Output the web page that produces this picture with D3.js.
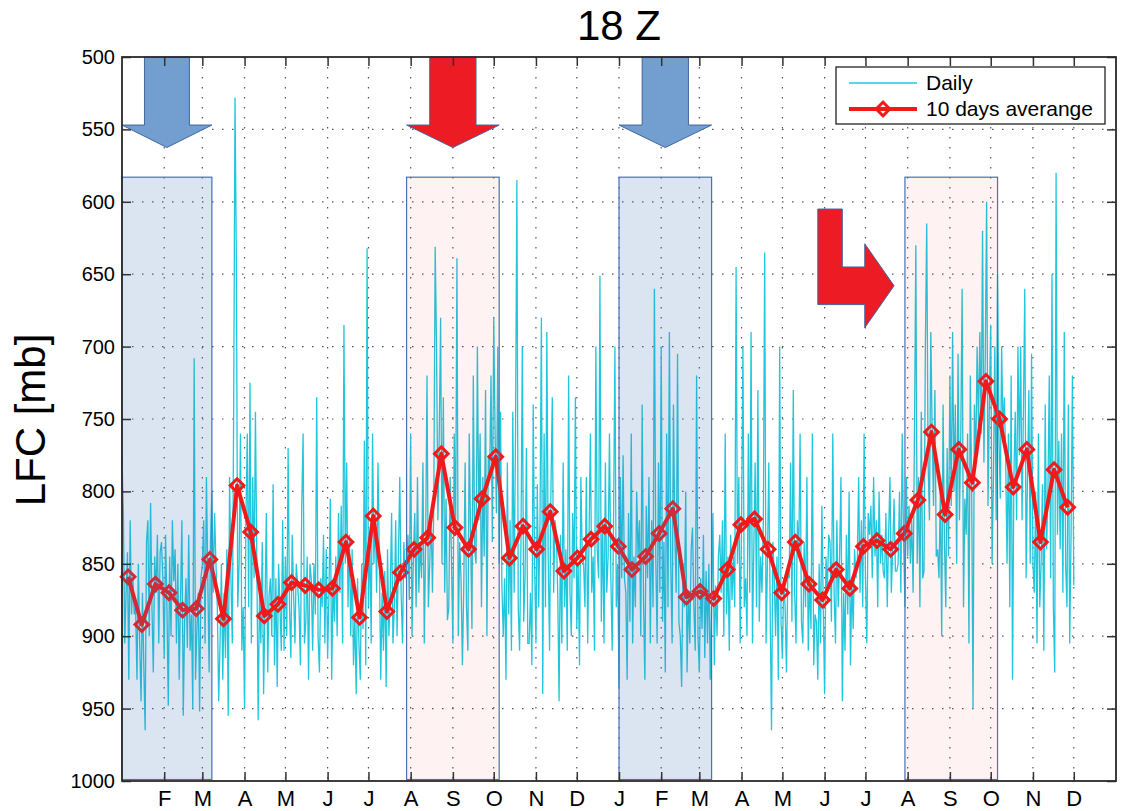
<!DOCTYPE html>
<html>
<head>
<meta charset="utf-8">
<script src="https://cdn.jsdelivr.net/npm/d3@7"></script>
<style>
  body { margin: 0; background: #fff; }
  svg text { font-family: "Liberation Sans", Arial, sans-serif; fill: #000; }
  .grid line { stroke: #555; stroke-width: 1.2; stroke-dasharray: 1.5 8.5; }
  .axis text { font-size: 20px; }
  .axis.x text { font-size: 22px; }
  .axis line { stroke: #333; stroke-width: 1.5; }
  .axis path { display: none; }
</style>
</head>
<body>
<svg id="chart"></svg>
<script>
// daily LFC [mb] at 18 Z, one value per day from 1 Jan of year 1 (10 days per row)
const dailyLFC = [
  778,815,905,870,842,930,820,885,860,885,
  880,930,850,905,945,870,920,965,835,820,
  900,808,880,925,845,870,830,905,842,835,
  860,915,830,880,948,845,900,820,862,840,
  905,850,930,872,820,955,890,860,908,830,
  910,885,950,708,930,895,870,952,860,850,
  820,905,790,860,925,835,800,870,815,850,
  880,945,905,850,930,870,915,840,955,790,
  860,905,745,528,642,880,850,760,910,880,
  950,820,760,880,725,905,790,860,745,845,
  958,870,905,835,940,880,815,925,872,860,
  900,795,920,860,935,850,880,910,820,910,
  845,900,770,880,915,830,870,905,850,865,
  880,920,810,760,905,890,845,930,850,860,
  910,850,885,735,900,925,860,880,830,905,
  840,915,870,805,930,860,890,845,900,815,
  870,810,905,685,850,780,880,830,900,840,
  920,885,940,860,905,930,850,895,765,920,
  632,880,830,905,760,850,815,870,780,848,
  930,870,910,855,935,840,900,870,815,905,
  880,820,900,845,790,870,905,835,860,855,
  830,875,760,900,845,815,880,790,870,835,
  860,780,905,835,720,880,850,815,870,805,
  631,700,820,760,680,850,735,870,805,889,
  880,790,850,905,760,830,639,900,835,861,
  920,865,780,880,910,760,830,895,720,840,
  850,700,820,760,880,790,845,730,900,775,
  790,720,835,680,760,815,700,850,745,865,
  900,860,930,780,885,820,910,745,870,760,
  585,880,910,835,700,890,860,770,905,905,
  870,920,740,850,905,795,880,820,680,940,
  760,880,690,845,910,800,735,870,820,830,
  870,945,830,905,780,880,840,910,720,870,
  900,815,860,735,895,850,920,790,845,850,
  880,790,905,830,760,870,845,910,700,840,
  860,651,890,820,905,780,870,845,760,859,
  910,820,700,880,850,935,790,860,775,860,
  870,930,815,890,760,905,845,880,800,845,
  820,900,740,875,930,810,860,790,905,820,
  880,660,845,905,780,870,700,890,835,925,
  760,880,690,850,905,740,830,870,705,890,
  900,935,850,880,800,925,870,905,840,825,
  880,910,720,900,925,860,895,830,915,855,
  905,850,930,880,815,920,865,900,845,830,
  870,820,900,760,885,845,910,830,875,845,
  880,645,850,790,905,820,700,880,860,900,
  760,870,690,905,840,780,880,730,890,845,
  870,820,635,905,850,780,880,965,835,860,
  900,845,930,700,890,915,860,880,925,855,
  860,780,890,730,870,905,820,845,760,890,
  905,835,880,790,910,860,895,760,920,885,
  890,930,850,905,810,880,940,845,870,830,
  835,890,760,870,905,820,880,845,790,945,
  870,910,830,885,800,920,860,895,840,860,
  850,790,870,820,880,760,860,905,815,830,
  810,860,790,845,820,880,800,850,830,855,
  860,815,880,830,790,870,840,805,855,855,
  850,800,870,760,835,880,790,845,810,850,
  820,870,760,630,850,790,880,745,860,855,
  700,615,780,820,690,760,810,730,845,840,
  860,800,900,740,835,880,770,845,720,810,
  690,800,740,850,705,820,760,660,880,805,
  830,760,905,720,800,950,740,780,700,755,
  690,760,620,780,705,600,810,740,685,850,
  790,700,820,650,760,805,700,760,735,780,
  850,760,880,720,930,790,745,820,700,775,
  700,820,745,660,860,790,730,850,705,850,
  870,800,905,760,880,850,795,910,740,840,
  800,720,860,650,880,925,580,830,765,840,
  760,870,690,850,880,740,905,830,720,865
];

// 10 days average LFC [mb], one per 10-day block
const avgLFC = [
  859, 892, 864, 870, 882, 881, 847, 888, 796, 828,
  886, 878, 863, 865, 868, 867, 835, 887, 817, 883,
  856, 840, 832, 774, 825, 840, 805, 776, 846, 824,
  840, 814, 855, 846, 833, 824, 838, 854, 845, 829,
  812, 873, 869, 874, 854, 823, 819, 840, 870, 835,
  864, 875, 854, 867, 838, 834, 840, 829, 806, 759,
  816, 771, 794, 724, 750, 797, 771, 835, 785, 811
];

const yTicks = [500, 550, 600, 650, 700, 750, 800, 850, 900, 950, 1000];

// highlighted periods (start, end, kind)
const periodStart = ['2010-01-01', '2010-07-29', '2011-01-01', '2011-07-30'];
const periodEnd   = ['2010-03-08', '2010-10-05', '2011-03-10', '2011-10-06'];
const periodKind  = ['cold', 'warm', 'cold', 'warm'];

const startDate = Date.UTC(2010, 0, 1);
const endDate = Date.UTC(2012, 0, 1);
const DAY = 864e5;

class LfcChart {

    constructor(_config) {
        this.config = {
            parentElement: _config.parentElement,
            containerWidth: _config.containerWidth || 1122,
            containerHeight: _config.containerHeight || 811,
            margin: {top: 57, bottom: 30, left: 122, right: 6}
        }
        this.initVis();
    }

    initVis() {
        let vis = this;

        vis.width = vis.config.containerWidth - vis.config.margin.left - vis.config.margin.right;
        vis.height = vis.config.containerHeight - vis.config.margin.top - vis.config.margin.bottom;

        vis.xScale = d3.scaleUtc()
            .domain([new Date(startDate), new Date(endDate)])
            .range([0, vis.width]);

        vis.yScale = d3.scaleLinear()
            .domain([500, 1000])
            .range([0, vis.height]);

        vis.monthTicks = d3.utcMonth.range(new Date(Date.UTC(2010, 1, 1)), new Date(endDate));
        const fmt = d3.utcFormat('%b');

        vis.xAxis = d3.axisBottom(vis.xScale)
            .tickValues(vis.monthTicks)
            .tickFormat(d => fmt(d)[0])
            .tickSizeInner(-9)
            .tickSizeOuter(0)
            .tickPadding(9);

        vis.yAxis = d3.axisLeft(vis.yScale)
            .tickValues(yTicks)
            .tickFormat(d3.format('d'))
            .tickSizeInner(-9)
            .tickSizeOuter(0)
            .tickPadding(7);

        vis.xAxisTop = d3.axisTop(vis.xScale)
            .tickValues(vis.monthTicks).tickFormat('')
            .tickSizeInner(-9).tickSizeOuter(0);

        vis.yAxisRight = d3.axisRight(vis.yScale)
            .tickValues(yTicks).tickFormat('')
            .tickSizeInner(-9).tickSizeOuter(0);

        vis.svg = d3.select(vis.config.parentElement)
            .attr('width', vis.config.containerWidth)
            .attr('height', vis.config.containerHeight);

        vis.chart = vis.svg.append('g')
            .attr('transform', `translate(${vis.config.margin.left},${vis.config.margin.top})`);
    }

    updateVis() {
        let vis = this;

        vis.daily = dailyLFC.map((v, i) => ({date: new Date(startDate + i * DAY), value: v}));
        vis.avg = avgLFC.map((v, i) => ({date: new Date(startDate + (4.5 + 10 * i) * DAY), value: v}));
        vis.periods = periodStart.map((s, i) => ({
            start: new Date(s + 'T00:00:00Z'),
            end: new Date(periodEnd[i] + 'T00:00:00Z'),
            kind: periodKind[i]
        }));

        vis.renderVis();
    }

    renderVis() {
        let vis = this;
        const x = vis.xScale, y = vis.yScale;

        // dotted grid
        const grid = vis.chart.append('g').attr('class', 'grid');
        grid.selectAll('.gx')
            .data(vis.monthTicks)
            .join('line')
            .attr('x1', d => x(d)).attr('x2', d => x(d))
            .attr('y1', 0).attr('y2', vis.height);
        grid.selectAll('.gy')
            .data(yTicks.slice(1, -1))
            .join('line')
            .attr('class', 'gy')
            .attr('x1', 0).attr('x2', vis.width)
            .attr('y1', d => y(d)).attr('y2', d => y(d));

        // daily line
        const line = d3.line()
            .x(d => x(d.date))
            .y(d => y(d.value));

        vis.chart.append('path')
            .datum(vis.daily)
            .attr('fill', 'none')
            .attr('stroke', '#1fc6dc')
            .attr('stroke-width', 1.3)
            .attr('d', line);

        // 10 days average
        vis.chart.append('path')
            .datum(vis.avg)
            .attr('fill', 'none')
            .attr('stroke', '#f01a1a')
            .attr('stroke-width', 4)
            .attr('stroke-linejoin', 'round')
            .attr('d', line);

        const diamond = d3.symbol(d3.symbolSquare, 92);
        vis.chart.selectAll('.marker')
            .data(vis.avg)
            .join('path')
            .attr('class', 'marker')
            .attr('d', diamond)
            .attr('transform', d => `translate(${x(d.date)},${y(d.value)}) rotate(45)`)
            .attr('fill', 'none')
            .attr('stroke', '#f01a1a')
            .attr('stroke-width', 3);

        // highlighted periods (translucent overlays)
        vis.chart.selectAll('.period')
            .data(vis.periods)
            .join('rect')
            .attr('class', 'period')
            .attr('x', d => x(d.start))
            .attr('width', d => x(d.end) - x(d.start))
            .attr('y', y(583))
            .attr('height', y(999) - y(583))
            .attr('fill', d => d.kind === 'cold' ? '#4a78b8' : '#ee2a2a')
            .attr('fill-opacity', d => d.kind === 'cold' ? 0.2 : 0.06)
            .attr('stroke', '#4a6fb5')
            .attr('stroke-width', 1.2);

        // down arrows above the first three periods
        const arrowPath = d => {
            const x0 = x(d.start), x1 = x(d.end), xm = (x0 + x1) / 2, hw = (x1 - x0) / 4;
            const yb = y(547), yt = y(562.5);
            return `M${xm - hw},${y(500)}L${xm + hw},${y(500)}L${xm + hw},${yb}L${x1},${yb}` +
                   `L${xm},${yt}L${x0},${yb}L${xm - hw},${yb}Z`;
        };
        vis.chart.selectAll('.arrow')
            .data(vis.periods.slice(0, 3))
            .join('path')
            .attr('class', 'arrow')
            .attr('d', arrowPath)
            .attr('fill', d => d.kind === 'cold' ? '#729fd0' : '#ed1c24')
            .attr('stroke', '#41659e')
            .attr('stroke-width', 1);

        // bent arrow pointing into the last period
        const bent = [[511, 605], [529, 605], [529, 645], [545.5, 645], [545.5, 629],
                      [567, 658], [545.5, 687], [545.5, 671], [511, 671]];
        vis.chart.append('path')
            .attr('d', 'M' + bent.map(p => `${x(new Date(startDate + p[0] * DAY))},${y(p[1])}`).join('L') + 'Z')
            .attr('fill', '#ed1c24')
            .attr('stroke', '#41659e')
            .attr('stroke-width', 1);

        // axes
        vis.chart.append('g').attr('class', 'axis x')
            .attr('transform', `translate(0,${vis.height})`)
            .call(vis.xAxis);
        vis.chart.append('g').attr('class', 'axis y').call(vis.yAxis);
        vis.chart.append('g').attr('class', 'axis').call(vis.xAxisTop);
        vis.chart.append('g').attr('class', 'axis')
            .attr('transform', `translate(${vis.width},0)`)
            .call(vis.yAxisRight);

        vis.chart.append('rect')
            .attr('width', vis.width).attr('height', vis.height)
            .attr('fill', 'none')
            .attr('stroke', '#2a2a2a')
            .attr('stroke-width', 1.8);

        // title and y label
        vis.svg.append('text')
            .attr('x', vis.config.margin.left + vis.width / 2)
            .attr('y', 40)
            .attr('text-anchor', 'middle')
            .style('font-size', '42px')
            .text('18 Z');

        vis.svg.append('text')
            .attr('transform', 'translate(45,420) rotate(-90)')
            .attr('text-anchor', 'middle')
            .style('font-size', '42px')
            .text('LFC [mb]');

        // legend
        const lg = vis.svg.append('g').attr('class', 'legend');
        lg.append('rect')
            .attr('x', 836).attr('y', 67).attr('width', 269).attr('height', 57)
            .attr('fill', '#fff').attr('stroke', '#111').attr('stroke-width', 1.2);
        lg.append('line')
            .attr('x1', 849).attr('x2', 917).attr('y1', 83).attr('y2', 83)
            .attr('stroke', '#1fc6dc').attr('stroke-width', 1.3);
        lg.append('line')
            .attr('x1', 849).attr('x2', 917).attr('y1', 109).attr('y2', 109)
            .attr('stroke', '#f01a1a').attr('stroke-width', 4);
        lg.append('path')
            .attr('d', diamond)
            .attr('transform', 'translate(883,109) rotate(45)')
            .attr('fill', 'none').attr('stroke', '#f01a1a').attr('stroke-width', 3);
        lg.append('text').attr('x', 926).attr('y', 90).style('font-size', '21px').text('Daily');
        lg.append('text').attr('x', 926).attr('y', 116).style('font-size', '21px').text('10 days averange');
    }
}

const chart = new LfcChart({parentElement: '#chart'});
chart.updateVis();
</script>
</body>
</html>
